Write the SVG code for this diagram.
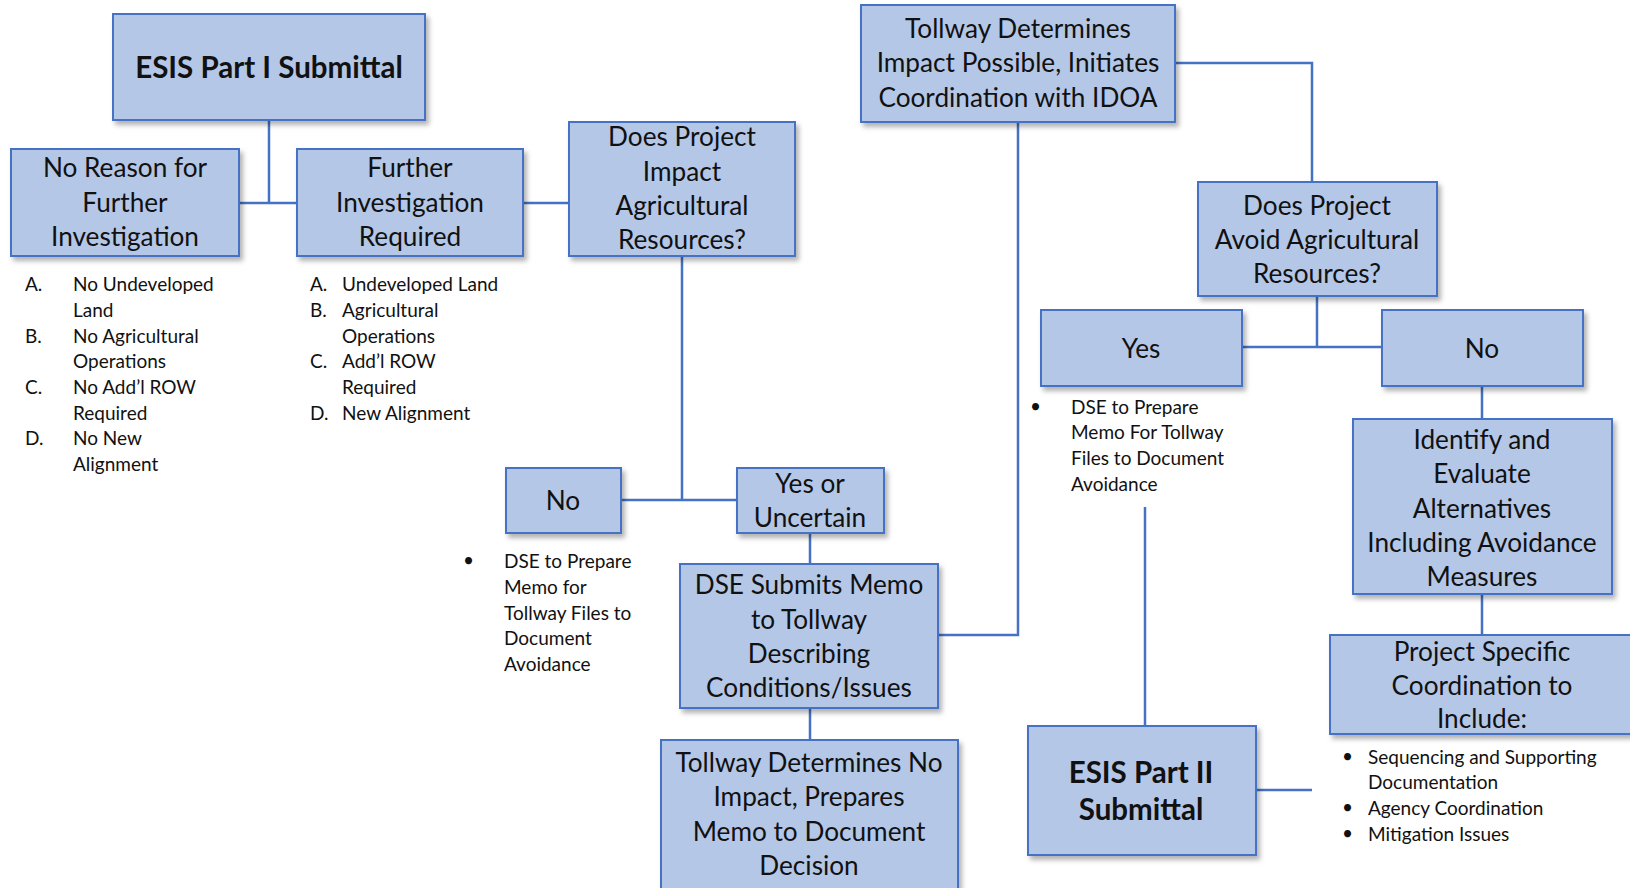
<svg xmlns="http://www.w3.org/2000/svg" width="1630" height="888" viewBox="0 0 1630 888">
<style>
.box{fill:#B4C7E7;stroke:#4472C4;stroke-width:2;filter:url(#sh)}
.t{font-family:Lato,"Open Sans","Liberation Sans",sans-serif;font-size:26.2px;fill:#111;text-anchor:middle}
.b{font-family:Lato,"Open Sans","Liberation Sans",sans-serif;font-size:29.5px;font-weight:bold;fill:#111;text-anchor:middle}
.s{font-family:Lato,"Open Sans","Liberation Sans",sans-serif;font-size:19px;fill:#111}
.c{fill:none;stroke:#4472C4;stroke-width:2.5}
</style>
<defs>
<filter id="sh" x="-10%" y="-10%" width="125%" height="130%">
<feDropShadow dx="3" dy="4" stdDeviation="2.5" flood-color="#000" flood-opacity="0.3"/>
</filter>
</defs>
<rect width="1630" height="888" fill="#fff"/>
<g id="connectors">
<path class="c" d="M269 120V203M239 203H297M523 203H569"/>
<path class="c" d="M682 256V500M621 500H737"/>
<path class="c" d="M810 533V564M810 708V740"/>
<path class="c" d="M938 635H1018V122"/>
<path class="c" d="M1175 63H1312V182"/>
<path class="c" d="M1317 296V347M1242 347H1382"/>
<path class="c" d="M1482 386V419M1482 594V635"/>
<path class="c" d="M1145 507V726M1256 790H1312"/>
</g>
<g id="esis1">
<rect class="box" x="113" y="14" width="312" height="106"/>
<text class="b" x="269" y="78">ESIS Part I Submittal</text>
</g>
<g id="noReason">
<rect class="box" x="11" y="149" width="228" height="107"/>
<text class="t" x="125" y="177">No Reason for</text>
<text class="t" x="125" y="212">Further</text>
<text class="t" x="125" y="246">Investigation</text>
</g>
<g id="noReasonList" class="s">
<text x="25" y="291">A.</text><text x="73" y="291">No Undeveloped</text>
<text x="73" y="317">Land</text>
<text x="25" y="343">B.</text><text x="73" y="343">No Agricultural</text>
<text x="73" y="368">Operations</text>
<text x="25" y="394">C.</text><text x="73" y="394">No Add’l ROW</text>
<text x="73" y="420">Required</text>
<text x="25" y="445">D.</text><text x="73" y="445">No New</text>
<text x="73" y="471">Alignment</text>
</g>
<g id="further">
<rect class="box" x="297" y="149" width="226" height="107"/>
<text class="t" x="410" y="177">Further</text>
<text class="t" x="410" y="212">Investigation</text>
<text class="t" x="410" y="246">Required</text>
</g>
<g id="furtherList" class="s">
<text x="310" y="291">A.</text><text x="342" y="291">Undeveloped Land</text>
<text x="310" y="317">B.</text><text x="342" y="317">Agricultural</text>
<text x="342" y="343">Operations</text>
<text x="310" y="368">C.</text><text x="342" y="368">Add’l ROW</text>
<text x="342" y="394">Required</text>
<text x="310" y="420">D.</text><text x="342" y="420">New Alignment</text>
</g>
<g id="doesImpact">
<rect class="box" x="569" y="122" width="226" height="134"/>
<text class="t" x="682" y="146">Does Project</text>
<text class="t" x="682" y="181">Impact</text>
<text class="t" x="682" y="215">Agricultural</text>
<text class="t" x="682" y="249">Resources?</text>
</g>
<g id="noLeft">
<rect class="box" x="506" y="468" width="115" height="65"/>
<text class="t" x="563" y="510">No</text>
</g>
<g id="noLeftNote" class="s">
<text x="463" y="567">•</text>
<text x="504" y="568">DSE to Prepare</text>
<text x="504" y="594">Memo for</text>
<text x="504" y="620">Tollway Files to</text>
<text x="504" y="645">Document</text>
<text x="504" y="671">Avoidance</text>
</g>
<g id="yesUncertain">
<rect class="box" x="737" y="468" width="147" height="65"/>
<text class="t" x="810" y="493">Yes or</text>
<text class="t" x="810" y="527">Uncertain</text>
</g>
<g id="dseSubmits">
<rect class="box" x="680" y="564" width="258" height="144"/>
<text class="t" x="809" y="594">DSE Submits Memo</text>
<text class="t" x="809" y="629">to Tollway</text>
<text class="t" x="809" y="663">Describing</text>
<text class="t" x="809" y="697">Conditions/Issues</text>
</g>
<g id="tollwayNoImpact">
<rect class="box" x="661" y="740" width="297" height="160"/>
<text class="t" x="809" y="772">Tollway Determines No</text>
<text class="t" x="809" y="806">Impact, Prepares</text>
<text class="t" x="809" y="841">Memo to Document</text>
<text class="t" x="809" y="875">Decision</text>
</g>
<g id="tollwayImpact">
<rect class="box" x="861" y="5" width="314" height="117"/>
<text class="t" x="1018" y="38">Tollway Determines</text>
<text class="t" x="1018" y="72">Impact Possible, Initiates</text>
<text class="t" x="1018" y="107">Coordination with IDOA</text>
</g>
<g id="doesAvoid">
<rect class="box" x="1198" y="182" width="239" height="114"/>
<text class="t" x="1317" y="215">Does Project</text>
<text class="t" x="1317" y="249">Avoid Agricultural</text>
<text class="t" x="1317" y="283">Resources?</text>
</g>
<g id="yes">
<rect class="box" x="1041" y="310" width="201" height="76"/>
<text class="t" x="1141" y="358">Yes</text>
</g>
<g id="yesNote" class="s">
<text x="1030" y="413">•</text>
<text x="1071" y="414">DSE to Prepare</text>
<text x="1071" y="439">Memo For Tollway</text>
<text x="1071" y="465">Files to Document</text>
<text x="1071" y="491">Avoidance</text>
</g>
<g id="noRight">
<rect class="box" x="1382" y="310" width="201" height="76"/>
<text class="t" x="1482" y="358">No</text>
</g>
<g id="identify">
<rect class="box" x="1353" y="419" width="259" height="175"/>
<text class="t" x="1482" y="449">Identify and</text>
<text class="t" x="1482" y="483">Evaluate</text>
<text class="t" x="1482" y="518">Alternatives</text>
<text class="t" x="1482" y="552">Including Avoidance</text>
<text class="t" x="1482" y="586">Measures</text>
</g>
<g id="projectSpecific">
<rect class="box" x="1330" y="635" width="310" height="99"/>
<text class="t" x="1482" y="661">Project Specific</text>
<text class="t" x="1482" y="695">Coordination to</text>
<text class="t" x="1482" y="728">Include:</text>
</g>
<g id="projectList" class="s">
<text x="1342" y="763">•</text><text x="1368" y="764">Sequencing and Supporting</text>
<text x="1368" y="789">Documentation</text>
<text x="1342" y="814">•</text><text x="1368" y="815">Agency Coordination</text>
<text x="1342" y="840">•</text><text x="1368" y="841">Mitigation Issues</text>
</g>
<g id="esis2">
<rect class="box" x="1028" y="726" width="228" height="129"/>
<text class="b" x="1141" y="783">ESIS Part II</text>
<text class="b" x="1141" y="820">Submittal</text>
</g>
</svg>
